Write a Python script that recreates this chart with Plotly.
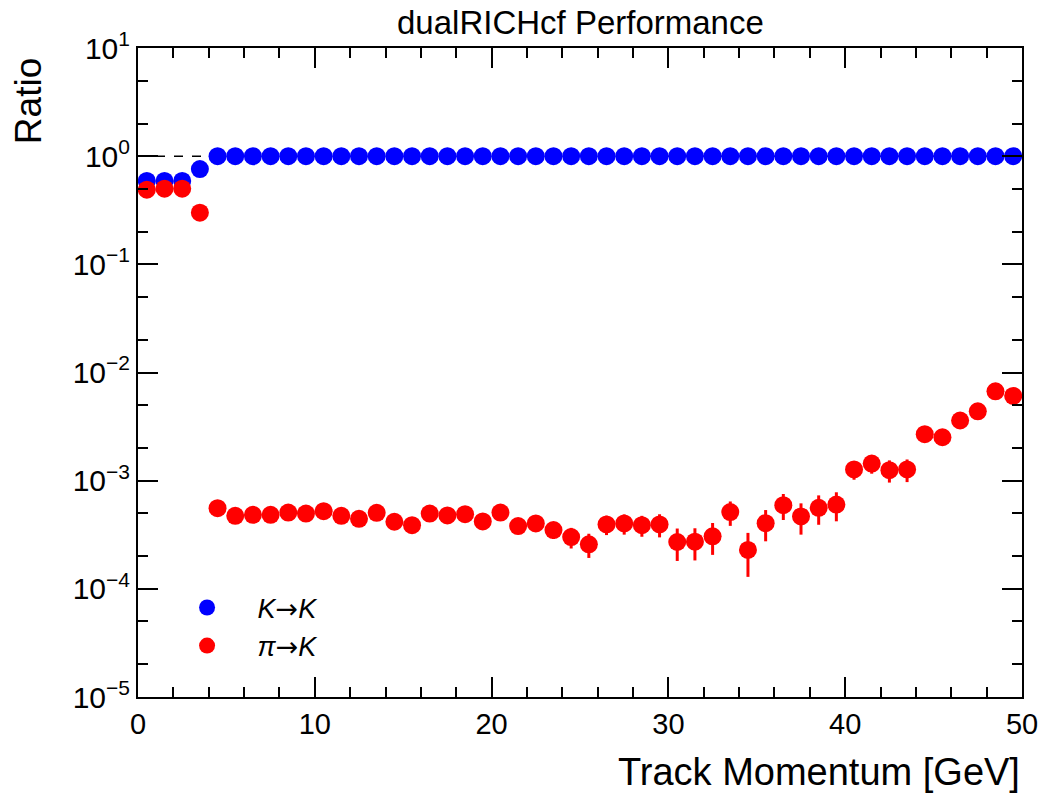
import plotly.graph_objects as go

# ---------------- data ----------------
momentum = [0.5 + i for i in range(50)]

k_to_k = [0.59, 0.59, 0.59, 0.76] + [1.0] * 46
k_to_k_err = [0.01, 0.01, 0.01, 0.01] + [0.003] * 46

pi_to_k = [0.49, 0.50, 0.50, 0.30,
           5.57e-4, 4.73e-4, 4.83e-4, 4.83e-4, 5.07e-4, 4.96e-4, 5.22e-4, 4.73e-4,
           4.44e-4, 5.04e-4, 4.17e-4, 3.88e-4, 4.96e-4, 4.77e-4, 4.90e-4, 4.20e-4,
           5.07e-4, 3.80e-4, 4.02e-4, 3.49e-4, 3.01e-4, 2.58e-4, 3.94e-4, 4.02e-4,
           3.88e-4, 3.94e-4, 2.71e-4, 2.73e-4, 3.06e-4, 5.12e-4, 2.29e-4, 4.05e-4,
           5.93e-4, 4.67e-4, 5.61e-4, 6.01e-4, 1.27e-3, 1.44e-3, 1.25e-3, 1.27e-3,
           2.69e-3, 2.52e-3, 3.60e-3, 4.38e-3, 6.70e-3, 6.07e-3]
pi_to_k_err = [0.01, 0.01, 0.01, 0.01,
               0.40e-4, 0.40e-4, 0.40e-4, 0.40e-4, 0.45e-4, 0.45e-4, 0.50e-4, 0.50e-4,
               0.50e-4, 0.55e-4, 0.50e-4, 0.50e-4, 0.60e-4, 0.60e-4, 0.60e-4, 0.60e-4,
               0.65e-4, 0.60e-4, 0.65e-4, 0.60e-4, 0.65e-4, 0.65e-4, 0.80e-4, 0.85e-4,
               0.85e-4, 0.95e-4, 0.90e-4, 0.90e-4, 1.00e-4, 1.30e-4, 1.00e-4, 1.30e-4,
               1.60e-4, 1.50e-4, 1.70e-4, 1.80e-4, 2.5e-4, 2.8e-4, 2.9e-4, 3.0e-4,
               3.5e-4, 3.5e-4, 4.0e-4, 4.5e-4, 5.5e-4, 5.5e-4]

y_tick_vals = [1e-5, 1e-4, 1e-3, 1e-2, 1e-1, 1e0, 1e1]
y_tick_text = ["10<sup>\u22125</sup>", "10<sup>\u22124</sup>", "10<sup>\u22123</sup>",
               "10<sup>\u22122</sup>", "10<sup>\u22121</sup>", "10<sup>0</sup>", "10<sup>1</sup>"]
x_tick_vals = [0, 10, 20, 30, 40, 50]
x_range = [0, 50]
ref_line = [1.0, 1.0]

FONT = "Liberation Sans, Arial, Helvetica, sans-serif"
ARROW = '<span style="font-family:DejaVu Sans">\u2192</span>'

fig = go.Figure()

fig.add_trace(go.Scatter(x=x_range, y=ref_line, mode="lines",
                         line=dict(color="black", width=1.5, dash="dash"),
                         showlegend=False, hoverinfo="skip"))

fig.add_trace(go.Scatter(
    x=momentum, y=k_to_k, mode="markers", name="<i>K</i>" + ARROW + "<i>K</i>",
    marker=dict(color="#0000ff", size=18, line=dict(width=0)),
    error_y=dict(type="data", array=k_to_k_err, color="#0000ff", thickness=3, width=0),
))
fig.add_trace(go.Scatter(
    x=momentum, y=pi_to_k, mode="markers", name="<i>\u03c0</i>" + ARROW + "<i>K</i>",
    marker=dict(color="#ff0000", size=18, line=dict(width=0)),
    error_y=dict(type="data", array=pi_to_k_err, color="#ff0000", thickness=3, width=0),
))

axis_common = dict(
    showline=True, linecolor="black", linewidth=2, mirror="allticks",
    ticks="inside", tickcolor="black", showgrid=False, zeroline=False,
)

fig.update_xaxes(range=x_range, tickvals=x_tick_vals, ticklen=20, tickwidth=1.5,
                 tickfont=dict(family=FONT, size=29, color="black"),
                 minor=dict(ticks="inside", dtick=2, tick0=0, ticklen=10, tickcolor="black",
                            tickwidth=1.5, showgrid=False),
                 **axis_common)
fig.update_yaxes(type="log", range=[-5, 1], tickvals=y_tick_vals, ticktext=y_tick_text,
                 ticklen=20, tickwidth=1.5,
                 tickfont=dict(family=FONT, size=30, color="black"),
                 minor=dict(ticks="inside", ticklen=10, tickcolor="black", tickwidth=1.5,
                            showgrid=False),
                 **axis_common)

fig.update_layout(
    width=1050, height=801,
    margin=dict(l=138, r=26, t=48, b=104),
    plot_bgcolor="white", paper_bgcolor="white",
    font=dict(family=FONT, color="black"),
    showlegend=True,
    legend=dict(x=0.021, y=0.175, xanchor="left", yanchor="top",
                bgcolor="rgba(0,0,0,0)", borderwidth=0,
                font=dict(family=FONT, size=27, color="black"),
                itemsizing="trace", itemwidth=91, tracegroupgap=0),
    annotations=[
        dict(text="dualRICHcf Performance", x=0.5, xref="paper", y=1.04, yref="paper",
             yanchor="middle", showarrow=False,
             font=dict(family=FONT, size=33, color="black")),
        dict(text="Track Momentum [GeV]", x=1.0, xref="paper", xanchor="right",
             y=-0.08, yref="paper", yanchor="top", showarrow=False,
             font=dict(family=FONT, size=38, color="black")),
        dict(text="Ratio", x=-0.124, xref="paper", xanchor="center",
             y=0.988, yref="paper", yanchor="top", textangle=-90, showarrow=False,
             font=dict(family=FONT, size=37, color="black")),
    ],
)

fig.write_html("out.html")
